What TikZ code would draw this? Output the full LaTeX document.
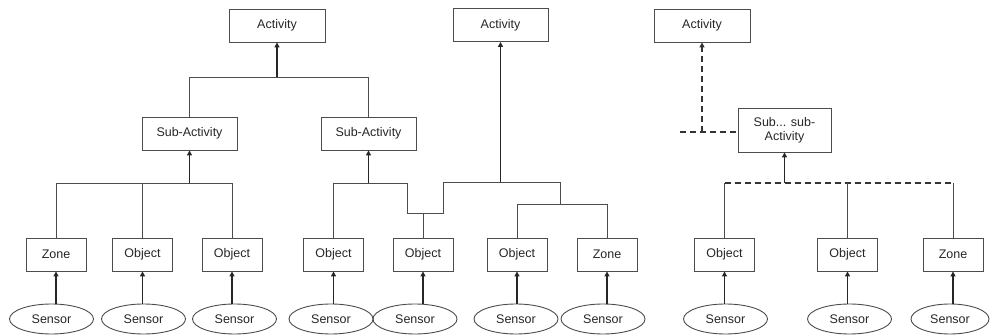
\documentclass[tikz,border=0pt]{standalone}
\usepackage{fontspec}
\setmainfont{Liberation Sans}
\usetikzlibrary{arrows.meta,shapes.geometric}
\begin{document}
\begin{tikzpicture}[x=1pt,y=-1pt,
  font=\fontsize{12.5}{14}\selectfont,
  every node/.style={text=black!85},
  box/.style={draw=black!70,line width=0.9pt,minimum height=33pt,inner sep=0pt},
  actbox/.style={box,minimum width=96pt},
  leafbox/.style={box,minimum width=60pt},
  sensorell/.style={draw=black!70,line width=0.9pt,ellipse,minimum width=84pt,minimum height=30pt,inner sep=0pt},
  tree/.style={draw=black!70,line width=0.9pt},
  arr/.style={draw=black!85,line width=1.6pt,-{Triangle[length=5pt,width=5pt]}},
  dsh/.style={draw=black!80,line width=1.5pt,dash pattern=on 6pt off 4pt},
  darr/.style={dsh,-{Triangle[length=5pt,width=5pt]}}]
\useasboundingbox (0,0) rectangle (992,336);

% ---------- left tree ----------
\node[actbox] (a1) at (277,25.5) {Activity};
\node[actbox,minimum width=95pt] (s1) at (189.5,133.5) {Sub-Activity};
\node[actbox,minimum width=95pt] (s2) at (368.5,133.5) {Sub-Activity};
\node[leafbox] (l1) at (56,254.5) {Zone};
\node[leafbox] (l2) at (142.5,254.5) {Object};
\node[leafbox] (l3) at (232,254.5) {Object};
\node[sensorell] (e1) at (51.5,319) {Sensor};
\node[sensorell] (e2) at (143.5,319) {Sensor};
\node[sensorell] (e3) at (234.5,319) {Sensor};

\coordinate (j1) at (278,77);
\coordinate (h1) at (188,183);
\draw[tree] (s1.north) -- (s1.north |- j1) -- (s2.north |- j1) -- (s2.north);
\draw[arr] (a1.south |- j1) -- (a1.south);
\draw[tree] (l1.north) -- (l1.north |- h1) -- (l3.north |- h1) -- (l3.north);
\draw[tree] (l2.north) -- (l2.north |- h1);
\draw[arr] (s1.south |- h1) -- (s1.south);

% ---------- middle tree ----------
\node[actbox,minimum width=95pt] (a2) at (500.5,25) {Activity};
\node[leafbox] (l4) at (333.5,254.5) {Object};
\node[leafbox] (l5) at (423,254.5) {Object};
\node[leafbox] (l6) at (517,254.5) {Object};
\node[leafbox] (l7) at (607,254.5) {Zone};
\node[sensorell] (e4) at (331,319) {Sensor};
\node[sensorell] (e5) at (415,319) {Sensor};
\node[sensorell] (e6) at (516,319) {Sensor};
\node[sensorell] (e7) at (603,319) {Sensor};

\coordinate (m1) at (407,183);
\coordinate (m2) at (407,213);
\coordinate (m3) at (443,213);
\coordinate (m4) at (443,182);
\coordinate (m5) at (560,182);
\coordinate (m6) at (560,204);
\draw[tree] (l4.north) -- (l4.north |- m1) -- (m1) -- (m2) -- (m3) -- (m4) -- (m5) -- (m6);
\draw[tree] (l5.north) -- (l5.north |- m2);
\draw[tree] (l6.north) -- (l6.north |- m6) -- (l7.north |- m6) -- (l7.north);
\draw[arr] (s2.south |- m1) -- (s2.south);
\draw[arr] (a2.south |- m4) -- (a2.south);

% ---------- right tree ----------
\node[actbox] (a3) at (702,25.5) {Activity};
\node[box,minimum width=93pt,minimum height=44pt,align=center] (s3) at (784.5,130) {Sub... sub-\\Activity};
\node[leafbox] (l8) at (724.5,254.5) {Object};
\node[leafbox] (l9) at (847.5,254.5) {Object};
\node[leafbox] (l10) at (953,254.5) {Zone};
\node[sensorell] (e8) at (725.5,319) {Sensor};
\node[sensorell] (e9) at (849.5,319) {Sensor};
\node[sensorell,minimum width=78pt] (e10) at (950,319) {Sensor};

\coordinate (r0) at (680,132);
\coordinate (r1) at (784,183);
\draw[dsh] (r0) -- (s3.west |- r0);
\draw[darr] (a3.south |- r0) -- (a3.south);
\draw[dsh] (l8.north |- r1) -- (l10.north |- r1);
\draw[tree] (l8.north) -- (l8.north |- r1);
\draw[tree] (l9.north) -- (l9.north |- r1);
\draw[tree] (l10.north) -- (l10.north |- r1);
\draw[arr] (s3.south |- r1) -- (s3.south);

% ---------- sensor arrows ----------
\foreach \e/\l in {e1/l1,e2/l2,e3/l3,e4/l4,e5/l5,e6/l6,e7/l7,e8/l8,e9/l9,e10/l10}{
  \draw[arr] (\l.south |- \e.north) -- (\l.south);
}
\end{tikzpicture}
\end{document}
